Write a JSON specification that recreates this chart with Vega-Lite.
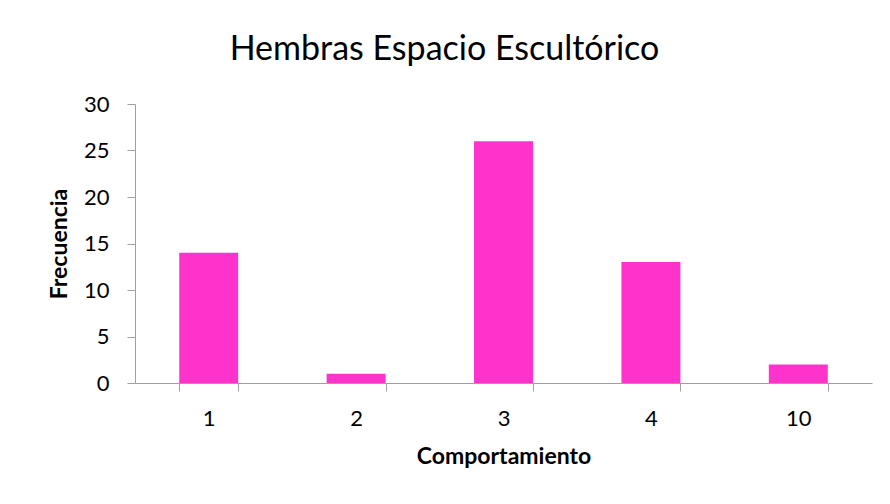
{
  "$schema": "https://vega.github.io/schema/vega-lite/v6.json",
  "autosize": {"type": "none"},
  "padding": {"left": 135, "top": 104, "right": 18, "bottom": 121},
  "width": 737,
  "height": 279,
  "background": "white",
  "config": {
    "view": {"stroke": null},
    "font": "Lato",
    "axis": {
      "domainColor": "#A0A0A0",
      "tickColor": "#A0A0A0",
      "domainWidth": 1,
      "tickWidth": 1,
      "tickSize": 8,
      "grid": false,
      "labelFont": "Lato",
      "labelFontSize": 22,
      "labelColor": "#000000",
      "titleFont": "Lato",
      "titleFontSize": 23,
      "titleFontWeight": "bold",
      "titleColor": "#000000"
    }
  },
  "title": {
    "text": "Hembras Espacio Escultórico",
    "font": "Lato",
    "fontSize": 34,
    "fontWeight": "normal",
    "color": "#000000",
    "anchor": "middle",
    "dx": -59,
    "offset": 26
  },
  "data": {
    "values": [
      {"comportamiento": "1", "frecuencia": 14},
      {"comportamiento": "2", "frecuencia": 1},
      {"comportamiento": "3", "frecuencia": 26},
      {"comportamiento": "4", "frecuencia": 13},
      {"comportamiento": "10", "frecuencia": 2}
    ]
  },
  "mark": {"type": "bar", "color": "#FF33CC"},
  "encoding": {
    "x": {
      "field": "comportamiento",
      "type": "nominal",
      "sort": null,
      "title": "Comportamiento",
      "scale": {"paddingInner": 0.6, "paddingOuter": 0.3},
      "axis": {
        "labelAngle": 0,
        "tickBand": "extent",
        "labelPadding": 17,
        "titlePadding": 16
      }
    },
    "y": {
      "field": "frecuencia",
      "type": "quantitative",
      "title": "Frecuencia",
      "scale": {"domain": [0, 30], "nice": false},
      "axis": {
        "values": [0, 5, 10, 15, 20, 25, 30],
        "labelPadding": 18,
        "titlePadding": 12
      }
    }
  }
}
